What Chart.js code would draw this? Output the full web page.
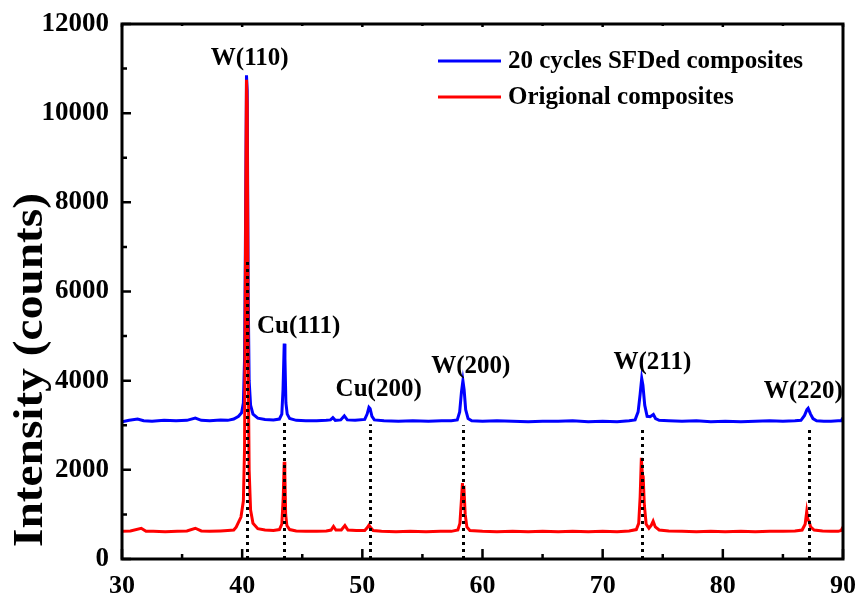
<!DOCTYPE html>
<html>
<head>
<meta charset="utf-8">
<script src="https://cdn.jsdelivr.net/npm/chart.js@4/dist/chart.umd.min.js"></script>
<style>
    html, body { margin: 0; padding: 0; background: #fff; }
    #xrd { display: block; }
</style>
</head>
<body>
<canvas id="xrd" width="861" height="601"></canvas>
<script>
// 2-theta (deg) and intensity (counts)
const sfdAngles = [
    30.0, 30.6, 31.3, 31.8, 32.5, 33.5, 34.5, 35.4, 36.1, 36.6, 37.3, 38.2, 38.8,
    39.3, 39.7, 39.95, 40.1, 40.2, 40.28, 40.36, 40.42, 40.5, 40.58, 40.7, 40.9, 41.3,
    41.9, 42.6, 43.1, 43.3, 43.4, 43.5, 43.56, 43.64, 43.75, 43.95, 44.5, 45.3, 46.2,
    47.0, 47.35, 47.55, 47.75, 48.2, 48.5, 48.75, 49.4, 50.2, 50.4, 50.55, 50.65, 50.8,
    51.0, 51.8, 53.0, 54.2, 55.5, 56.6, 57.4, 57.9, 58.1, 58.25, 58.37, 58.47, 58.6,
    58.8, 59.1, 60.0, 61.2, 62.5, 63.8, 65.0, 66.3, 67.5, 68.8, 70.0, 71.2, 72.2, 72.7,
    72.95, 73.12, 73.25, 73.35, 73.5, 73.7, 73.95, 74.22, 74.4, 74.7, 75.5, 76.6, 77.8,
    79.0, 80.2, 81.5, 82.7, 83.9, 85.0, 86.0, 86.5, 86.8, 87.0, 87.1, 87.3, 87.5, 87.8,
    88.4, 89.0, 89.6, 89.85, 90.0
];
const sfdCounts = [
    3080, 3110, 3140, 3100, 3090, 3110, 3100, 3110, 3160, 3110, 3100, 3120, 3110,
    3140, 3200, 3280, 3500, 4500, 7500, 10850, 10500, 6000, 4000, 3450, 3250, 3160,
    3130, 3120, 3140, 3250, 3800, 4830, 4500, 3500, 3250, 3150, 3110, 3100, 3100,
    3110, 3120, 3170, 3110, 3120, 3210, 3120, 3110, 3130, 3250, 3400, 3370, 3200,
    3120, 3100, 3090, 3100, 3090, 3100, 3100, 3120, 3300, 3750, 4000, 3800, 3350,
    3150, 3100, 3090, 3100, 3090, 3080, 3090, 3090, 3100, 3080, 3090, 3080, 3100, 3120,
    3300, 3700, 4050, 3900, 3450, 3200, 3190, 3240, 3150, 3110, 3100, 3090, 3100,
    3080, 3090, 3080, 3090, 3100, 3090, 3100, 3110, 3220, 3350, 3380, 3250, 3150, 3100,
    3090, 3090, 3100, 3100, 3170
];

const origAngles = [
    30.0, 30.7, 31.6, 32.0, 32.6, 33.6, 34.6, 35.4, 36.1, 36.6, 37.3, 38.2, 38.8,
    39.3, 39.5, 39.9, 40.1, 40.2, 40.28, 40.36, 40.42, 40.5, 40.58, 40.7, 40.9, 41.3,
    41.9, 42.6, 43.1, 43.3, 43.42, 43.5, 43.55, 43.62, 43.72, 43.95, 44.5, 45.3, 46.2,
    47.0, 47.4, 47.6, 47.8, 48.25, 48.55, 48.8, 49.5, 50.2, 50.4, 50.55, 50.7, 50.9,
    51.6, 52.8, 54.0, 55.3, 56.5, 57.4, 57.95, 58.12, 58.24, 58.33, 58.4, 58.47, 58.56,
    58.7, 58.95, 60.0, 61.2, 62.5, 63.8, 65.0, 66.3, 67.5, 68.8, 70.0, 71.2, 72.2, 72.8,
    73.0, 73.12, 73.22, 73.3, 73.37, 73.47, 73.62, 73.85, 74.05, 74.2, 74.38, 74.7, 75.5,
    76.6, 77.8, 79.0, 80.2, 81.5, 82.7, 83.9, 85.0, 86.0, 86.6, 86.85, 86.98, 87.08,
    87.18, 87.3, 87.6, 88.3, 89.0, 89.6, 89.85, 90.0
];
const origCounts = [
    620, 630, 690, 620, 620, 610, 620, 630, 690, 630, 620, 630, 640,
    650, 715, 940, 1300, 2500, 7000, 10750, 10200, 4500, 2000, 1100, 800, 680,
    650, 640, 660, 780, 1400, 2180, 1900, 1000, 750, 660, 630, 620, 620,
    630, 650, 730, 650, 650, 750, 650, 640, 640, 700, 760, 700, 640,
    620, 610, 620, 610, 620, 620, 650, 800, 1300, 1700, 1450, 1500, 1000,
    720, 640, 620, 610, 620, 610, 620, 610, 620, 610, 620, 610, 630, 660,
    800, 1400, 2270, 1900, 1850, 1200, 780, 690, 760, 850, 720, 650, 630,
    620, 610, 620, 610, 620, 610, 620, 620, 630, 650, 780, 1060, 880,
    850, 720, 650, 630, 620, 620, 640, 720
];

const seriesLabels = ['20 cycles SFDed composites', 'Origional composites'];

// indexed reflections: guide line position, how high the dotted guide reaches, label anchor
const peakNames = ['W(110)', 'Cu(111)', 'Cu(200)', 'W(200)', 'W(211)', 'W(220)'];
const peakAngles = [40.4, 43.52, 50.67, 58.39, 73.29, 87.18];
const guideTops = [6700, 3050, 3020, 3000, 2980, 2950];
const labelAngles = [40.63, 44.7, 51.36, 59.03, 74.14, 86.69];
const labelCounts = [11220, 5218, 3807, 4322, 4412, 3763];

const xTicks = [30, 40, 50, 60, 70, 80, 90];
const yTicks = [0, 2000, 4000, 6000, 8000, 10000, 12000];
const yTitle = 'Intensity (counts)';

const FONT = "'Liberation Serif', 'Times New Roman', serif";
const BLUE = '#0000ff';
const RED = '#ff0000';

/**
 * Frame, inward tick marks, dotted guides, peak labels, axis title and the inset legend
 */
const decorations = {
    id: 'decorations',
    afterDatasetsDraw(chart) {
        const { ctx, chartArea: area, scales: { x, y } } = chart;
        ctx.save();

        // dotted guides
        ctx.strokeStyle = '#000';
        ctx.lineWidth = 3;
        ctx.setLineDash([3, 4]);
        peakAngles.forEach((a, i) => {
            const px = Math.round(x.getPixelForValue(a)) + 0.5;
            ctx.beginPath();
            ctx.moveTo(px, y.getPixelForValue(0));
            ctx.lineTo(px, y.getPixelForValue(guideTops[i]));
            ctx.stroke();
        });
        ctx.setLineDash([]);

        // frame
        ctx.lineWidth = 3;
        ctx.strokeRect(area.left, area.top, area.right - area.left, area.bottom - area.top);

        // ticks, major and minor, pointing inwards
        ctx.lineWidth = 2.5;
        ctx.beginPath();
        for (let v = 30; v <= 90; v += 5) {
            const px = x.getPixelForValue(v);
            const len = v % 10 === 0 ? 10 : 5;
            ctx.moveTo(px, area.bottom);
            ctx.lineTo(px, area.bottom - len);
            ctx.moveTo(px, area.top);
            ctx.lineTo(px, area.top + (v % 10 === 0 ? 3 : 2));
        }
        for (let v = 0; v <= 12000; v += 1000) {
            const py = y.getPixelForValue(v);
            const len = v % 2000 === 0 ? 9 : 5;
            ctx.moveTo(area.left, py);
            ctx.lineTo(area.left + len, py);
        }
        ctx.stroke();

        ctx.fillStyle = '#000';
        ctx.textBaseline = 'middle';

        // y axis title, stretched a little along its length like the original
        ctx.save();
        ctx.font = `bold 43px ${FONT}`;
        ctx.textAlign = 'center';
        ctx.translate(29, 370);
        ctx.rotate(-Math.PI / 2);
        ctx.scale(354 / ctx.measureText(yTitle).width, 1);
        ctx.fillText(yTitle, 0, 2);
        ctx.restore();

        // peak labels
        ctx.font = `bold 25px ${FONT}`;
        ctx.textAlign = 'center';
        peakNames.forEach((name, i) => {
            ctx.fillText(name, x.getPixelForValue(labelAngles[i]), y.getPixelForValue(labelCounts[i]));
        });

        // legend in the upper right of the plot
        ctx.textAlign = 'left';
        chart.data.datasets.forEach((ds, i) => {
            const rowY = 61 + i * 36;
            ctx.strokeStyle = ds.borderColor;
            ctx.lineWidth = 3;
            ctx.beginPath();
            ctx.moveTo(438, rowY);
            ctx.lineTo(501, rowY);
            ctx.stroke();
            ctx.fillStyle = '#000';
            ctx.fillText(ds.label, 508, rowY + 1);
        });

        ctx.restore();
    }
};

const ctx = document.getElementById('xrd').getContext('2d');

new Chart(ctx, {
    type: 'line',
    data: {
        datasets: [{
            label: seriesLabels[0],
            data: sfdAngles.map((a, i) => ({ x: a, y: sfdCounts[i] })),
            borderColor: BLUE,
            borderWidth: 3,
            pointRadius: 0,
            tension: 0,
            order: 1,
        }, {
            label: seriesLabels[1],
            data: origAngles.map((a, i) => ({ x: a, y: origCounts[i] })),
            borderColor: RED,
            borderWidth: 3,
            pointRadius: 0,
            tension: 0,
            order: 0,
        }]
    },
    options: {
        responsive: false,
        animation: false,
        devicePixelRatio: 1,
        layout: { padding: { top: 24, right: 18, left: 0, bottom: 0 } },
        plugins: {
            legend: { display: false },
            tooltip: { enabled: false },
        },
        scales: {
            x: {
                type: 'linear',
                min: 30,
                max: 90,
                afterBuildTicks: (scale) => { scale.ticks = xTicks.map(v => ({ value: v })); },
                afterFit: (scale) => {
                    scale.height = 42;
                    scale.paddingLeft = 0;
                    scale.paddingRight = 0;
                },
                grid: { display: false, drawTicks: false },
                border: { display: false },
                ticks: {
                    padding: 12,
                    color: '#000',
                    font: { family: FONT, size: 26, weight: 'bold' },
                    callback: (v) => String(v),
                },
            },
            y: {
                min: 0,
                max: 12000,
                afterBuildTicks: (scale) => { scale.ticks = yTicks.map(v => ({ value: v })); },
                afterFit: (scale) => {
                    scale.width = 122;
                    scale.paddingTop = 0;
                    scale.paddingBottom = 0;
                },
                grid: { display: false, drawTicks: false },
                border: { display: false },
                ticks: {
                    padding: 13,
                    color: '#000',
                    font: { family: FONT, size: 27, weight: 'bold' },
                    callback: (v) => String(v),
                },
            },
        },
    },
    plugins: [decorations],
});
</script>
</body>
</html>
